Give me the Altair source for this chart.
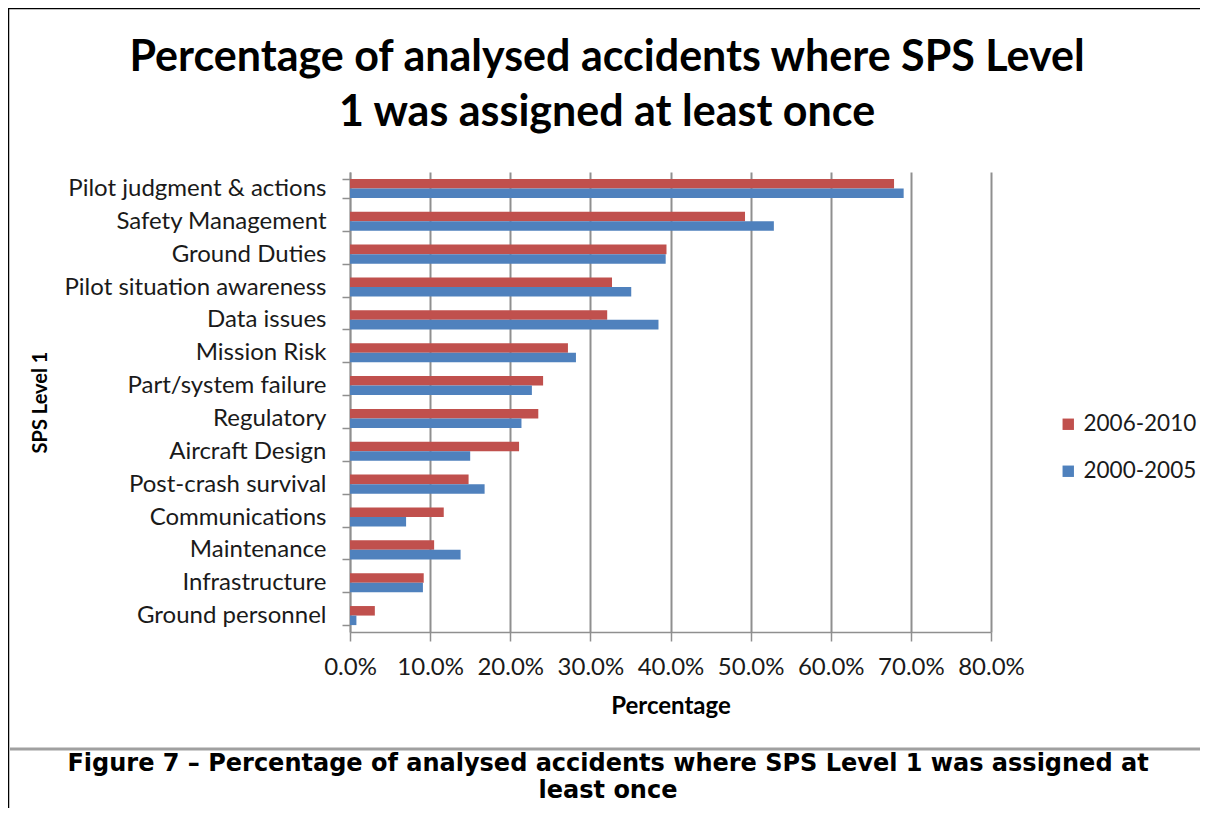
import altair as alt
import pandas as pd

categories = [
    "Pilot judgment & actions", "Safety Management", "Ground Duties",
    "Pilot situation awareness", "Data issues", "Mission Risk",
    "Part/system failure", "Regulatory", "Aircraft Design",
    "Post-crash survival", "Communications", "Maintenance",
    "Infrastructure", "Ground personnel",
]
series_names = ["2006-2010", "2000-2005"]
values_2006_2010 = [0.679, 0.493, 0.395, 0.327, 0.321, 0.272, 0.241, 0.235, 0.211,
                    0.148, 0.117, 0.105, 0.092, 0.031]
values_2000_2005 = [0.691, 0.529, 0.394, 0.351, 0.385, 0.282, 0.227, 0.214, 0.150,
                    0.168, 0.070, 0.138, 0.091, 0.008]
x_ticks = [0, 0.1, 0.2, 0.3, 0.4, 0.5, 0.6, 0.7, 0.8]

title_lines = ["Percentage of analysed accidents where SPS Level",
               "1 was assigned at least once"]
caption_lines = ["Figure 7 \u2013 Percentage of analysed accidents where SPS Level 1 was assigned at",
                 "least once"]

rows = []
for c, a, b in zip(categories, values_2006_2010, values_2000_2005):
    rows.append({"Category": c, "Period": series_names[0], "Value": a})
    rows.append({"Category": c, "Period": series_names[1], "Value": b})
df = pd.DataFrame(rows)

RED = "#C0504D"
BLUE = "#4F81BD"
GRID = "#8f8f8f"
FONT = "Lato"

W, H = 641, 460
PL, PT = 342, 164

bars = alt.Chart(df).mark_bar().encode(
    y=alt.Y("Category:N", sort=categories,
            scale=alt.Scale(paddingInner=0.42, paddingOuter=0.21),
            axis=alt.Axis(title="SPS Level 1", tickBand="extent", tickSize=8,
                          tickColor=GRID, tickWidth=1.5, domainColor=GRID, domainWidth=1.5,
                          labelFont=FONT, labelFontSize=24, labelColor="#1a1a1a",
                          labelPadding=16, labelLimit=0, titleFont=FONT, titleFontSize=20,
                          titleFontWeight="bold", titleColor="#000",
                          titleX=-310, titleY=H / 2, titleAngle=-90,
                          titleAlign="center", titleBaseline="middle")),
    yOffset=alt.YOffset("Period:N", sort=series_names),
    x=alt.X("Value:Q",
            scale=alt.Scale(domain=[0, 0.8], nice=False),
            axis=alt.Axis(title="Percentage", values=x_ticks, format=".1%",
                          grid=True, gridColor=GRID, gridWidth=2,
                          tickSize=9, tickColor=GRID, tickWidth=1.5,
                          domainColor=GRID, domainWidth=1.5, labelFlush=False,
                          labelFont=FONT, labelFontSize=24, labelColor="#1a1a1a",
                          labelPadding=14, titleFont=FONT, titleFontSize=24,
                          titleFontWeight="bold", titleColor="#000",
                          titleY=74, titleBaseline="middle")),
    color=alt.Color("Period:N",
                    scale=alt.Scale(domain=series_names, range=[RED, BLUE]),
                    legend=alt.Legend(title=None, orient="none", legendX=707, legendY=241,
                                      symbolType="square", symbolSize=130,
                                      symbolStrokeWidth=0, labelFont=FONT,
                                      labelFontSize=22.5, labelColor="#1a1a1a",
                                      rowPadding=24, labelOffset=4)),
)

one = pd.DataFrame({"t": [0]})

title = alt.Chart(one).mark_text(
    font=FONT, fontWeight="bold", fontSize=43, lineHeight=55,
    align="center", baseline="middle", color="#000"
).encode(x=alt.value(257), y=alt.value(-114), text=alt.value(title_lines))

caption = alt.Chart(one).mark_text(
    font="DejaVu Sans", fontWeight="bold", fontSize=24, lineHeight=27,
    align="center", baseline="middle", color="#000"
).encode(x=alt.value(258), y=alt.value(592), text=alt.value(caption_lines))

top_border = alt.Chart(one).mark_rule(
    color="#000", strokeWidth=2.5
).encode(x=alt.value(-PL), x2=alt.value(900), y=alt.value(-PT))

left_border = alt.Chart(one).mark_rule(
    color="#000", strokeWidth=2.5
).encode(x=alt.value(-PL), y=alt.value(-PT), y2=alt.value(700))

sep = alt.Chart(one).mark_rule(
    color="#a0a0a0", strokeWidth=3
).encode(x=alt.value(-PL + 2), x2=alt.value(900), y=alt.value(577))

chart = alt.layer(bars, title, caption, top_border, left_border, sep).properties(
    width=W, height=H,
    padding={"left": PL, "top": PT, "right": 1192 - PL - W, "bottom": 800 - PT - H},
    autosize=alt.AutoSizeParams(type="none"),
).configure_view(stroke=None).configure_axisY(grid=False)

chart.save("out.html", embed_options={"renderer": "svg", "actions": False})
